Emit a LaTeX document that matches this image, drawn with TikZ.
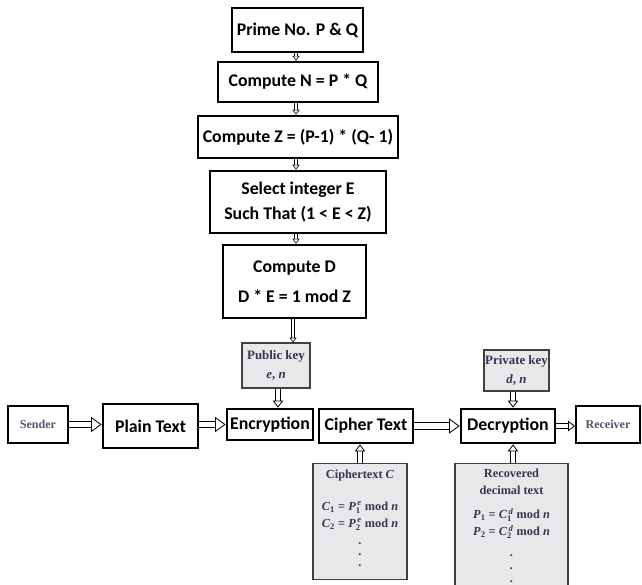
\documentclass[tikz,border=0pt]{standalone}
\usepackage{amsmath}
\usepackage{fontspec}
\setmainfont{Liberation Serif}
\newfontfamily\calib{Carlito}
\usetikzlibrary{arrows.meta}

\definecolor{keygray}{RGB}{232,232,234}
\definecolor{keytext}{RGB}{50,55,80}

\tikzset{
  stepbox/.style={draw, line width=2.4pt, font=\calib\bfseries\fontsize{15.2}{21.4}\selectfont, align=center, inner sep=0pt},
  keybox/.style={draw=black!75, line width=1pt, fill=keygray, text=keytext, font=\bfseries\fontsize{11}{16}\selectfont, align=center, inner sep=0pt},
  endbox/.style={draw, line width=1.6pt, text=keytext!85, font=\bfseries\fontsize{10.3}{12}\selectfont, inner sep=0pt},
  formula/.style={text=keytext, font=\bfseries\fontsize{10.5}{14.5}\selectfont, align=center, anchor=north, inner sep=0pt},
  hollow/.style={double=white, double distance=5pt, line width=0.7pt, -{Triangle[open, length=9pt, width=13pt]}},
  small hollow/.style={double=white, double distance=3.5pt, line width=0.7pt, -{Triangle[open, length=6pt, width=9pt]}},
  tiny hollow/.style={double=white, double distance=2.2pt, line width=0.5pt, -{Triangle[open, length=4pt, width=6pt]}}
}

\begin{document}
\begin{tikzpicture}[x=0.03cm, y=-0.03cm]
  \useasboundingbox (0,0) rectangle (642,584);

  % key generation
  \node[stepbox, minimum width=131*0.03cm, minimum height=44*0.03cm] (prime) at (297.5,30) {Prime No. P \& Q};
  \node[stepbox, minimum width=160*0.03cm, minimum height=40*0.03cm] (compn) at (298,82) {Compute N = P * Q};
  \node[stepbox, minimum width=200*0.03cm, minimum height=42*0.03cm] (compz) at (298,137) {Compute Z = (P-1) * (Q- 1)};
  \node[stepbox, minimum width=176*0.03cm, minimum height=62*0.03cm] (sele) at (298,202) {Select integer E\\Such That (1 {<} E {<} Z)};
  \node[stepbox, minimum width=143*0.03cm, minimum height=73*0.03cm, font=\calib\bfseries\fontsize{15.2}{26}\selectfont] (compd) at (294.5,281.5) {Compute D\\D * E = 1 mod Z};

  \draw[tiny hollow] (prime.south -| 296,0) -- (compn.north -| 296,0);
  \draw[tiny hollow] (compn.south -| 296,0) -- (compz.north -| 296,0);
  \draw[tiny hollow] (compz.south -| 296,0) -- (sele.north -| 296,0);
  \draw[tiny hollow] (sele.south -| 296,0) -- (compd.north -| 296,0);

  % keys
  \node[keybox, minimum width=68*0.03cm, minimum height=45*0.03cm] (pub) at (276,365.5) {Public key\\\textit{e}, \textit{n}};
  \node[keybox, minimum width=65*0.03cm, minimum height=41*0.03cm] (priv) at (516.5,370.5) {Private key\\\textit{d}, \textit{n}};
  \draw[tiny hollow] (compd.south -| 293,0) -- (pub.north -| 293,0);

  % main line
  \node[endbox, minimum width=60*0.03cm, minimum height=37*0.03cm] (sender) at (38,424.5) {Sender};
  \node[stepbox, minimum width=95*0.03cm, minimum height=44*0.03cm] (plain) at (150.5,426) {Plain Text};
  \node[stepbox, minimum width=86*0.03cm, minimum height=31*0.03cm] (enc) at (270,424.5) {Encryption};
  \node[stepbox, minimum width=94*0.03cm, minimum height=34*0.03cm] (ciph) at (366,426) {Cipher Text};
  \node[stepbox, minimum width=94*0.03cm, minimum height=34*0.03cm] (dec) at (508,426) {Decryption};
  \node[endbox, minimum width=64*0.03cm, minimum height=37*0.03cm] (recv) at (608,424.5) {Receiver};

  \draw[hollow] (sender.east) -- (sender.east -| plain.west);
  \draw[hollow] (plain.east |- enc.east) -- (enc.west);
  \draw[hollow] (ciph.east) -- (dec.west);
  \draw[small hollow] (dec.east) -- (dec.east -| recv.west);
  \draw[small hollow] (pub.south -| 278,0) -- (enc.north -| 278,0);
  \draw[small hollow] (priv.south -| 513,0) -- (dec.north -| 513,0);

  % formula boxes
  \node[keybox, anchor=north, minimum width=94*0.03cm, minimum height=116*0.03cm] (ctbox) at (360,463) {};
  \node[keybox, anchor=north, minimum width=113*0.03cm, minimum height=130*0.03cm] (rcbox) at (511.5,463) {};
  \node[formula] (cttext) at (ctbox.north |- 0,470)
    {Ciphertext \textit{C}\\[12.5pt]
     \textit{C}$_{\text{1}}$ = \textit{P}$_{\text{1}}^{\,\textit{e}}$ mod \textit{n}\\
     \textit{C}$_{\text{2}}$ = \textit{P}$_{\text{2}}^{\,\textit{e}}$ mod \textit{n}\\[0pt]
     .\\[-5pt] .\\[-5pt] .};
  \node[formula] (rctext) at (rcbox.north |- 0,469)
    {Recovered\\decimal text\\[6pt]
     \textit{P}$_{\text{1}}$ = \textit{C}$_{\text{1}}^{\,\textit{d}}$ mod \textit{n}\\
     \textit{P}$_{\text{2}}$ = \textit{C}$_{\text{2}}^{\,\textit{d}}$ mod \textit{n}\\[3pt]
     .\\[-3.5pt] .\\[-3.5pt] .};

  \draw[small hollow] (ctbox.north) -- (ctbox.north |- ciph.south);
  \draw[small hollow] (rcbox.north -| 513,0) -- (dec.south -| 513,0);
\end{tikzpicture}
\end{document}
